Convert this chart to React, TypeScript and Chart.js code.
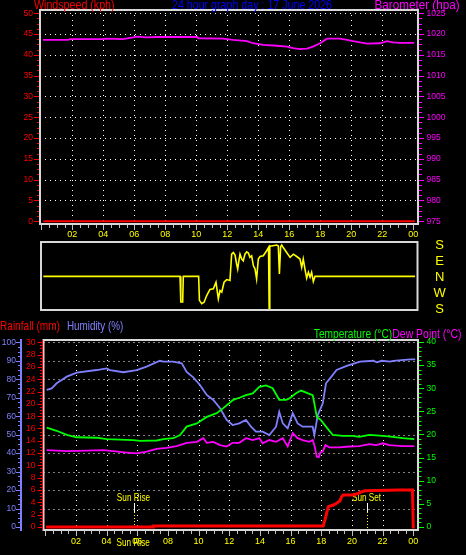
import React, { useEffect, useRef } from 'react';
import { Chart, registerables } from 'chart.js';

Chart.register(...registerables);

// ---------------- data ----------------
const hourTicks = [2, 4, 6, 8, 10, 12, 14, 16, 18, 20, 22, 24];
const hourLabels = ['02', '04', '06', '08', '10', '12', '14', '16', '18', '20', '22', '00'];

const windTicks = [0, 5, 10, 15, 20, 25, 30, 35, 40, 45, 50];
const baroTicks = [975, 980, 985, 990, 995, 1000, 1005, 1010, 1015, 1020, 1025];
const dirTicks = [180, 90, 0, -90, -180];
const dirLabels = ['S', 'E', 'N', 'W', 'S'];
const humTicks = [0, 10, 20, 30, 40, 50, 60, 70, 80, 90, 100];
const rainTicks = [0, 2, 4, 6, 8, 10, 12, 14, 16, 18, 20, 22, 24, 26, 28, 30];
const tempTicks = [0, 5, 10, 15, 20, 25, 30, 35, 40];

const windHours = [0.13, 24.1];
const windSpeed = [0, 0];

const baroHours = [0.11, 1.72, 1.85, 3.98, 4.11, 5.27, 5.92, 6.17, 6.81, 7.46, 10.05, 10.13, 11.72, 12.37, 13.27, 13.66, 14.3, 15.2, 15.85, 16.24, 16.69, 17.14, 17.53, 17.98, 18.43, 18.82, 19.27, 19.72, 20.11, 20.56, 21.01, 21.85, 22.3, 22.68, 23.14, 24.05];
const baroValues = [1018.6, 1018.6, 1018.8, 1018.8, 1018.9, 1018.8, 1019.2, 1019.4, 1019.2, 1019.3, 1019.3, 1019.0, 1018.9, 1018.6, 1018.3, 1017.8, 1017.4, 1017.2, 1017.0, 1016.6, 1016.4, 1016.5, 1017.0, 1017.8, 1018.9, 1018.9, 1018.9, 1018.6, 1018.3, 1018.0, 1017.7, 1017.8, 1018.3, 1018.0, 1017.9, 1017.9];

const dirHours = [0.13, 8.95, 9.0, 9.12, 9.16, 10.15, 10.2, 10.35, 10.5, 10.67, 10.88, 11.1, 11.27, 11.36, 11.42, 11.53, 11.64, 11.79, 11.96, 12.17, 12.28, 12.39, 12.5, 12.6, 12.67, 12.73, 12.82, 12.93, 13.03, 13.14, 13.25, 13.36, 13.46, 13.57, 13.68, 13.79, 13.89, 14.0, 14.11, 14.32, 14.54, 14.66, 14.7, 14.74, 14.86, 15.19, 15.29, 15.36, 15.44, 15.51, 15.61, 15.83, 16.05, 16.26, 16.48, 16.69, 16.8, 16.9, 17.01, 17.12, 17.23, 17.34, 17.44, 17.55, 17.66, 24.11];
const dirValues = [5, 5, -138, -138, 5, 5, -129, -148, -140, -102, -68, -65, -28, -83, -120, -74, -83, -28, -13, -18, 129, 138, 124, 74, 46, 83, 129, 102, 92, 129, 142, 135, 111, 120, 65, 46, -9, 102, 116, 120, 148, 166, -180, 175, 175, 180, 175, 18, 170, 180, 166, 138, 111, 129, 116, 102, 55, 102, 46, -5, 28, 0, 28, -24, 5, 5];

const humHours = [0.09, 0.42, 0.74, 1.07, 1.4, 2.05, 3.35, 4.0, 4.22, 5.09, 5.96, 6.61, 7.48, 7.7, 8.33, 8.9, 9.22, 9.65, 10.09, 10.53, 10.96, 11.4, 11.83, 12.22, 12.65, 13.09, 13.42, 13.74, 14.18, 14.61, 15.05, 15.26, 15.49, 15.81, 16.14, 16.46, 16.79, 17.44, 17.55, 17.77, 18.1, 18.31, 18.57, 19.0, 19.66, 20.53, 21.4, 21.62, 21.94, 22.49, 22.7, 23.8, 24.13];
const humValues = [74.2, 75, 77.8, 79.6, 81.4, 83.6, 85, 85.9, 85, 83.8, 85, 86.8, 90, 89.5, 89.5, 88.6, 84, 81, 76.9, 71.5, 68.8, 64.3, 58, 55.2, 56.1, 58, 54.3, 51.6, 51.6, 49.8, 54.3, 62.4, 56.1, 53.4, 61.6, 56.1, 54.3, 54.3, 49.8, 60.6, 67, 77.8, 80.5, 85, 87.2, 89.5, 90, 89.2, 90, 89.5, 90, 90.8, 90.8];

const tempHours = [0.09, 0.74, 1.4, 2.05, 3.35, 4.0, 5.74, 6.18, 7.27, 7.7, 8.35, 8.79, 9.22, 9.88, 10.53, 11.18, 11.61, 12.26, 12.7, 13.09, 13.53, 13.96, 14.4, 14.83, 15.26, 15.7, 15.92, 16.35, 16.68, 17.22, 17.44, 17.55, 17.71, 17.98, 18.31, 18.75, 19.4, 20.05, 20.48, 21.14, 22.01, 22.66, 23.31, 24.07];
const tempValues = [21.5, 20.8, 19.9, 19.4, 19.3, 19.0, 18.8, 18.6, 18.7, 19.0, 19.2, 19.9, 21.7, 22.4, 23.8, 24.6, 25.7, 27.5, 28.0, 28.5, 28.9, 30.3, 30.6, 30.0, 27.5, 27.5, 27.8, 28.9, 29.5, 28.8, 28.5, 26.7, 23.8, 23.1, 21.7, 19.9, 19.7, 19.7, 19.5, 19.9, 19.7, 19.5, 19.2, 19.0];

const dewHours = [0.09, 1.4, 2.7, 3.78, 4.44, 5.31, 5.96, 6.61, 7.27, 7.92, 8.57, 9.22, 9.88, 10.31, 10.53, 10.96, 11.4, 11.83, 12.22, 12.65, 13.09, 13.53, 13.96, 14.18, 14.61, 15.05, 15.49, 15.81, 16.14, 16.46, 16.79, 17.22, 17.44, 17.55, 17.71, 17.84, 17.94, 18.1, 18.27, 18.53, 19.18, 19.83, 20.48, 21.14, 21.59, 22.01, 22.44, 23.31, 24.07];
const dewValues = [16.6, 16.4, 16.5, 16.6, 16.4, 16.1, 15.9, 16.3, 16.9, 17.1, 17.5, 18.2, 18.4, 19.2, 18.2, 18.4, 17.7, 17.4, 18.2, 18.2, 19.2, 18.8, 19.2, 18.1, 18.8, 18.4, 19.2, 17.4, 20.3, 19.2, 18.8, 18.4, 18.8, 17.7, 15.2, 15.1, 16.1, 16.3, 17.7, 17.2, 17.2, 17.4, 17.5, 17.9, 17.7, 18.1, 17.7, 17.5, 17.5];

const rainHours = [0.05, 7.04, 7.05, 18.13, 18.24, 18.46, 18.79, 19.0, 19.22, 19.33, 19.44, 20.09, 20.42, 20.64, 20.86, 23.03, 23.95, 24.0, 24.1];
const rainValues = [0, 0, 0.16, 0.16, 1.14, 3.3, 3.57, 3.84, 4.27, 4.92, 5.19, 5.19, 5.46, 5.73, 5.89, 6.0, 6.0, 0, 0];

const sunRiseHour = 5.8;
const sunSetHour = 20.97;

// ---------------- styling ----------------
const FONT = '"Liberation Sans", Arial, sans-serif';
const RED = '#ff0000';
const MAGENTA = '#ff00ff';
const YELLOW = '#ffff00';
const GREEN = '#00ff00';
const HUMC = '#8080ff';
const BLUE = '#0000ff';
const FRAME = '#d8d8d8';
const GRID = '#ffffff';
const TICKC = '#c0c0c0';

type Pt = { x: number; y: number };
const pts = (xs: number[], ys: number[]): Pt[] => xs.map((x, i) => ({ x, y: ys[i] }));
const fixedTicks = (vals: number[]) => (s: any) => {
  s.ticks = vals.map((v) => ({ value: v }));
};
const fixWidth = (w: number) => (s: any) => {
  s.width = w;
};
const fixHeight = (h: number) => (s: any) => {
  s.height = h;
};
const labelFrom = (vals: number[], labels: string[]) => (v: any) => {
  const i = vals.indexOf(Number(v));
  return i >= 0 ? labels[i] : '';
};
const plainNum = (v: any) => String(v);
const cr = (v: number) => Math.round(v) + 0.5;

// grid options: no drawn grid, tick length used only as a label offset
const offsetGrid = (len: number) => ({ display: false, drawOnChartArea: false, drawTicks: len > 0, tickLength: len });

function seg(ctx: CanvasRenderingContext2D, x1: number, y1: number, x2: number, y2: number, color: string, width = 1, dash: number[] = []) {
  ctx.save();
  ctx.strokeStyle = color;
  ctx.lineWidth = width;
  ctx.setLineDash(dash);
  ctx.beginPath();
  ctx.moveTo(x1, y1);
  ctx.lineTo(x2, y2);
  ctx.stroke();
  ctx.restore();
}

function drawFrame(ctx: CanvasRenderingContext2D, a: any) {
  ctx.save();
  ctx.strokeStyle = FRAME;
  ctx.lineWidth = 2;
  ctx.strokeRect(a.left, a.top, a.right - a.left, a.bottom - a.top);
  ctx.restore();
}

function narrowText(ctx: CanvasRenderingContext2D, text: string, cx: number, baseY: number, color: string, size: number, sx = 0.82) {
  ctx.save();
  ctx.font = `${size}px ${FONT}`;
  ctx.fillStyle = color;
  ctx.textAlign = 'center';
  ctx.textBaseline = 'alphabetic';
  ctx.translate(cx, baseY);
  ctx.scale(sx, 1);
  ctx.fillText(text, 0, 0);
  ctx.restore();
}

function axisTicks(ctx: CanvasRenderingContext2D, scale: any, from: number, to: number, step: number, majorEvery: number, xMajor: [number, number], xMinor: [number, number], color: string) {
  const n = Math.round((to - from) / step);
  for (let i = 0; i <= n; i++) {
    const v = from + i * step;
    const major = Math.abs(v / majorEvery - Math.round(v / majorEvery)) < 1e-6;
    const py = cr(scale.getPixelForValue(v));
    const xs = major ? xMajor : xMinor;
    seg(ctx, xs[0], py, xs[1], py, color, 1);
  }
}

function hourTickMarks(ctx: CanvasRenderingContext2D, xs: any, bottom: number) {
  for (let i = 0; i <= 48; i++) {
    const h = i / 2;
    const px = cr(xs.getPixelForValue(h));
    seg(ctx, px, bottom + 1, px, bottom + (i % 4 === 0 ? 6 : 4), TICKC, 1);
  }
}

function dottedGrid(ctx: CanvasRenderingContext2D, a: any, xs: any, ys: any, hours: number[], vals: number[]) {
  ctx.save();
  ctx.strokeStyle = GRID;
  ctx.lineWidth = 1;
  ctx.setLineDash([1, 4]);
  ctx.beginPath();
  for (const h of hours) {
    const px = cr(xs.getPixelForValue(h));
    ctx.moveTo(px, a.top);
    ctx.lineTo(px, a.bottom);
  }
  for (const v of vals) {
    const py = cr(ys.getPixelForValue(v));
    ctx.moveTo(a.left, py);
    ctx.lineTo(a.right, py);
  }
  ctx.stroke();
  ctx.restore();
}

const gridHours = hourTicks.slice(0, -1);

// ---------------- top chart ----------------
const topPlugin = {
  id: 'topDecor',
  beforeDatasetsDraw(chart: any) {
    const { ctx, chartArea: a, scales } = chart;
    dottedGrid(ctx, a, scales.x, scales.yWind, gridHours, windTicks.slice(1));
  },
  afterDatasetsDraw(chart: any) {
    const { ctx, chartArea: a, scales } = chart;
    drawFrame(ctx, a);
    axisTicks(ctx, scales.yWind, 0, 50, 1.25, 5, [a.left - 6, a.left - 1], [a.left - 3, a.left - 1], RED);
    axisTicks(ctx, scales.yBaro, 975, 1025, 1.25, 5, [a.right + 1, a.right + 6], [a.right + 1, a.right + 4], MAGENTA);
    hourTickMarks(ctx, scales.x, a.bottom);
  },
};

function topConfig(): any {
  return {
    type: 'line',
    data: {
      datasets: [
        { label: 'Windspeed', data: pts(windHours, windSpeed), yAxisID: 'yWind', borderColor: RED, borderWidth: 2, pointRadius: 0 },
        { label: 'Barometer', data: pts(baroHours, baroValues), yAxisID: 'yBaro', borderColor: MAGENTA, borderWidth: 1.8, pointRadius: 0 },
      ],
    },
    options: {
      responsive: false,
      animation: false,
      events: [],
      layout: { padding: { top: 10, left: 0, right: 0, bottom: 0 } },
      plugins: { legend: { display: false }, tooltip: { enabled: false }, title: { display: false } },
      scales: {
        x: {
          type: 'linear', position: 'bottom', min: -0.084, max: 24.3,
          afterBuildTicks: fixedTicks(hourTicks), afterFit: fixHeight(16),
          grid: offsetGrid(0), border: { display: false },
          ticks: { color: YELLOW, font: { family: FONT, size: 9 }, padding: 5.5, autoSkip: false, maxRotation: 0, callback: labelFrom(hourTicks, hourLabels) },
        },
        yWind: {
          type: 'linear', position: 'left', min: -0.65, max: 50.79,
          afterBuildTicks: fixedTicks(windTicks), afterFit: fixWidth(40),
          grid: offsetGrid(7), border: { display: false },
          ticks: { color: RED, font: { family: FONT, size: 8.5 }, padding: 0, autoSkip: false, callback: plainNum },
        },
        yBaro: {
          type: 'linear', position: 'right', min: 974.35, max: 1025.79,
          afterBuildTicks: fixedTicks(baroTicks), afterFit: fixWidth(48),
          grid: offsetGrid(8.5), border: { display: false },
          ticks: { color: MAGENTA, font: { family: FONT, size: 8.5 }, padding: 0, autoSkip: false, callback: plainNum },
        },
      },
    },
    plugins: [topPlugin],
  };
}

// ---------------- wind direction ----------------
const dirPlugin = {
  id: 'dirDecor',
  afterDatasetsDraw(chart: any) {
    drawFrame(chart.ctx, chart.chartArea);
  },
};

function dirConfig(): any {
  return {
    type: 'line',
    data: {
      datasets: [
        { label: 'Direction', data: pts(dirHours, dirValues), borderColor: YELLOW, borderWidth: 1.6, pointRadius: 0 },
      ],
    },
    options: {
      responsive: false,
      animation: false,
      events: [],
      layout: { padding: { top: 12, left: 41, right: 0, bottom: 10 } },
      plugins: { legend: { display: false }, tooltip: { enabled: false } },
      scales: {
        x: { type: 'linear', display: false, min: -0.02, max: 24.27 },
        y: {
          type: 'linear', position: 'right', min: -183, max: 197,
          afterBuildTicks: fixedTicks(dirTicks), afterFit: fixWidth(48.5),
          grid: offsetGrid(16), border: { display: false },
          ticks: { color: YELLOW, font: { family: FONT, size: 13 }, padding: 0, crossAlign: 'center', autoSkip: false, callback: labelFrom(dirTicks, dirLabels) },
        },
      },
    },
    plugins: [dirPlugin],
  };
}

// ---------------- bottom chart ----------------
function sunMarker(ctx: CanvasRenderingContext2D, xs: any, a: any, hour: number, text: string) {
  const px = cr(xs.getPixelForValue(hour));
  narrowText(ctx, text, px - 1, a.bottom - 29.5, YELLOW, 10);
  seg(ctx, px, a.bottom - 27, px, a.bottom - 18, '#ffffff', 1);
  seg(ctx, px, a.bottom - 18, px, a.bottom, YELLOW, 1, [1, 2]);
}

const botPlugin = {
  id: 'botDecor',
  beforeDatasetsDraw(chart: any) {
    const { ctx, chartArea: a, scales } = chart;
    dottedGrid(ctx, a, scales.x, scales.yHum, gridHours, humTicks.slice(1));
    sunMarker(ctx, scales.x, a, sunRiseHour, 'Sun Rise');
    sunMarker(ctx, scales.x, a, sunSetHour, 'Sun Set');
  },
  afterDatasetsDraw(chart: any) {
    const { ctx, chartArea: a, scales } = chart;
    drawFrame(ctx, a);
    const hx = scales.yHum.right - 1;
    seg(ctx, hx, a.top - 1, hx, a.bottom + 1, HUMC, 2);
    axisTicks(ctx, scales.yHum, 0, 100, 2.5, 10, [hx - 5, hx - 1], [hx - 3, hx - 1], HUMC);
    const rx = Math.round(scales.yRain.right) - 1.5;
    seg(ctx, rx, a.top, rx, a.bottom, RED, 1);
    axisTicks(ctx, scales.yRain, 0, 30, 0.5, 2, [rx - 5, rx], [rx - 2.5, rx], RED);
    axisTicks(ctx, scales.yTemp, 0, 40, 1, 5, [a.right + 1, a.right + 6], [a.right + 1, a.right + 3.5], GREEN);
    hourTickMarks(ctx, scales.x, a.bottom);
    const sx = scales.x.getPixelForValue(sunRiseHour);
    narrowText(ctx, 'Sun Rise', sx - 1, a.bottom + 15.5, YELLOW, 10);
  },
};

function botConfig(): any {
  return {
    type: 'line',
    data: {
      datasets: [
        { label: 'Rainfall', data: pts(rainHours, rainValues), yAxisID: 'yRain', borderColor: RED, borderWidth: 3, pointRadius: 0, order: 0 },
        { label: 'Dew Point', data: pts(dewHours, dewValues), yAxisID: 'yTemp', borderColor: MAGENTA, borderWidth: 1.8, pointRadius: 0, order: 1 },
        { label: 'Temperature', data: pts(tempHours, tempValues), yAxisID: 'yTemp', borderColor: GREEN, borderWidth: 1.8, pointRadius: 0, order: 2 },
        { label: 'Humidity', data: pts(humHours, humValues), yAxisID: 'yHum', borderColor: HUMC, borderWidth: 1.8, pointRadius: 0, order: 3 },
      ],
    },
    options: {
      responsive: false,
      animation: false,
      events: [],
      layout: { padding: { top: 20, left: 0, right: 0, bottom: 0 } },
      plugins: { legend: { display: false }, tooltip: { enabled: false } },
      scales: {
        x: {
          type: 'linear', position: 'bottom', min: -0.117, max: 24.31,
          afterBuildTicks: fixedTicks(hourTicks), afterFit: fixHeight(25),
          grid: offsetGrid(0), border: { display: false },
          ticks: { color: YELLOW, font: { family: FONT, size: 9 }, padding: 6.6, autoSkip: false, maxRotation: 0, callback: labelFrom(hourTicks, hourLabels) },
        },
        yHum: {
          type: 'linear', position: 'left', weight: 1, min: -1.62, max: 101.25,
          afterBuildTicks: fixedTicks(humTicks), afterFit: fixWidth(22),
          grid: offsetGrid(6), border: { display: false },
          ticks: { color: HUMC, font: { family: FONT, size: 8.5 }, padding: 0, autoSkip: false, callback: plainNum },
        },
        yRain: {
          type: 'linear', position: 'left', weight: 0, min: -0.49, max: 30.37,
          afterBuildTicks: fixedTicks(rainTicks), afterFit: fixWidth(21.5),
          grid: offsetGrid(8), border: { display: false },
          ticks: { color: RED, font: { family: FONT, size: 8.5 }, padding: 0, autoSkip: false, callback: plainNum },
        },
        yTemp: {
          type: 'linear', position: 'right', min: -0.65, max: 40.43,
          afterBuildTicks: fixedTicks(tempTicks), afterFit: fixWidth(48),
          grid: offsetGrid(8.5), border: { display: false },
          ticks: { color: GREEN, font: { family: FONT, size: 8.5 }, padding: 0, autoSkip: false, callback: plainNum },
        },
      },
    },
    plugins: [botPlugin],
  };
}

// ---------------- headings ----------------
type HeadProps = { text: string; color: string; x: number; baseline: number; size: number; anchor?: 'left' | 'right'; sx?: number };
function Heading({ text, color, x, baseline, size, anchor = 'left', sx = 0.82 }: HeadProps) {
  const top = baseline - (size * 0.905 + (size - size * 1.117) / 2);
  const style: React.CSSProperties = {
    position: 'absolute',
    top,
    color,
    font: `${size}px ${FONT}`,
    lineHeight: `${size}px`,
    whiteSpace: 'nowrap',
    transform: `scaleX(${sx})`,
    transformOrigin: anchor === 'right' ? 'right top' : 'left top',
    zIndex: 5,
  };
  if (anchor === 'right') style.right = 466 - x;
  else style.left = x;
  return <div style={style}>{text}</div>;
}

export default function App() {
  const topRef = useRef<HTMLCanvasElement>(null);
  const dirRef = useRef<HTMLCanvasElement>(null);
  const botRef = useRef<HTMLCanvasElement>(null);

  useEffect(() => {
    document.body.style.margin = '0';
    document.body.style.background = '#000';
    const charts = [
      new Chart(topRef.current as HTMLCanvasElement, topConfig()),
      new Chart(dirRef.current as HTMLCanvasElement, dirConfig()),
      new Chart(botRef.current as HTMLCanvasElement, botConfig()),
    ];
    return () => charts.forEach((c) => c.destroy());
  }, []);

  return (
    <div style={{ position: 'relative', width: 466, height: 555, background: '#000', overflow: 'hidden' }}>
      <canvas ref={topRef} width={466} height={240} style={{ position: 'absolute', left: 0, top: 0 }} />
      <canvas ref={dirRef} width={466} height={90} style={{ position: 'absolute', left: 0, top: 230 }} />
      <canvas ref={botRef} width={466} height={235} style={{ position: 'absolute', left: 0, top: 320 }} />
      <Heading text="Windspeed (kph)" color={RED} x={34} baseline={9} size={13} />
      <Heading text="24 hour graph day : 17 June 2026" color={BLUE} x={172} baseline={9} size={13} />
      <Heading text="Barometer (hpa)" color={MAGENTA} x={460} baseline={9} size={13} anchor="right" sx={0.9} />
      <Heading text="Rainfall (mm)" color={RED} x={0} baseline={330.3} size={12} sx={0.84} />
      <Heading text="Humidity (%)" color={HUMC} x={67} baseline={330.3} size={12} sx={0.82} />
      <Heading text="Temperature (°C)" color={GREEN} x={392} baseline={338.5} size={12} anchor="right" sx={0.85} />
      <Heading text="Dew Point (°C)" color={MAGENTA} x={461} baseline={338.5} size={12} anchor="right" sx={0.87} />
    </div>
  );
}
